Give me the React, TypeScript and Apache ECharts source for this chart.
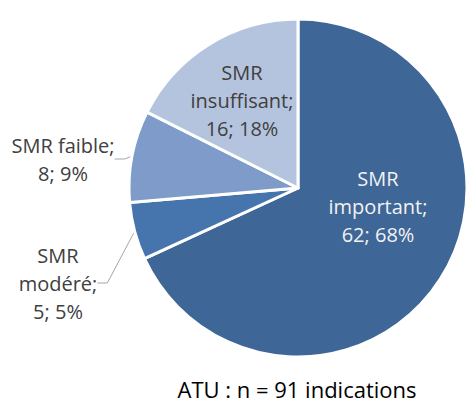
import React, { useEffect, useRef } from "react";
import * as echarts from "echarts";

const categories = ["SMR important", "SMR modéré", "SMR faible", "SMR insuffisant"];
const labelTexts = ["SMR\nimportant", "SMR\nmodéré", "SMR faible", "SMR\ninsuffisant"];
const values = [62, 5, 8, 16];
const colors = ["#3E6697", "#4675AD", "#7E9BC9", "#B5C4DE"];
const totalLabel = "ATU : n = 91 indications";

const FONT = "'Open Sans', 'Noto Sans', sans-serif";

export default function App() {
  const ref = useRef<HTMLDivElement>(null);
  useEffect(() => {
    document.body.style.margin = "0";
    const chart = echarts.init(ref.current!, null, { renderer: "svg" });
    const total = values.reduce((a, b) => a + b, 0);
    const labelPos = [
      { x: 378, y: 206, color: "#F2F2F2" },
      { x: 58, y: 283, color: "#404040" },
      { x: 63, y: 159, color: "#404040" },
      { x: 242, y: 100, color: "#404040" },
    ];
    chart.setOption({
      animation: false,
      backgroundColor: "#ffffff",
      graphic: [
        {
          type: "text",
          x: 297,
          y: 389,
          style: {
            text: totalLabel,
            fontFamily: FONT,
            fontSize: 22,
            fill: "#000000",
            align: "center",
            verticalAlign: "middle",
          },
        },
      ],
      series: [
        {
          type: "pie",
          center: [298, 188],
          radius: [0, 169],
          startAngle: 90,
          clockwise: true,
          avoidLabelOverlap: false,
          itemStyle: { borderColor: "#ffffff", borderWidth: 3 },
          label: {
            show: true,
            fontFamily: FONT,
            fontSize: 20,
            lineHeight: 28,
            align: "center",
            color: "#404040",
            formatter: (p: any) =>
              labelTexts[p.dataIndex] + ";\n" + p.value + "; " + Math.round((p.value / total) * 100) + "%",
          },
          labelLine: { show: true, lineStyle: { color: "#A6A6A6", width: 1 }, length: 10, length2: 10 },
          labelLayout: (p: any) => {
            const lp = labelPos[p.dataIndex];
            return { x: lp.x, y: lp.y, align: "center", verticalAlign: "middle" };
          },
          data: values.map((v, i) => ({
            name: categories[i],
            value: v,
            itemStyle: { color: colors[i] },
            label: { color: labelPos[i].color },
            labelLine: { show: i === 1 || i === 2 },
          })),
        },
      ],
    });
    return () => chart.dispose();
  }, []);
  return <div ref={ref} style={{ width: 466, height: 403 }} />;
}
